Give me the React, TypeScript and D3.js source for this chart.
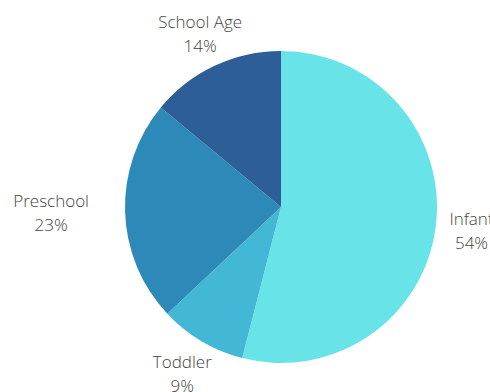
import React from "react";
import * as d3 from "d3";

const categories = ["Infant", "Toddler", "Preschool", "School Age"];
const values = [54, 9, 23, 14];
const colors = ["#68E4E8", "#42B8D6", "#2D8AB8", "#2D5E98"];

export default function App() {
  const W = 490, H = 392;
  const cx = 281, cy = 207, r = 156;
  const data = categories.map((c, i) => ({ c, v: values[i], col: colors[i] }));
  const pie = d3.pie<any>().value((d) => d.v).sort(null);
  const arcs = pie(data);
  const arc = d3.arc<any>().innerRadius(0).outerRadius(r);
  const extra: Record<string, [number, number]> = {
    Infant: [2, 0],
    Toddler: [-2, 3],
    Preschool: [-40, 0],
    "School Age": [0, -1],
  };
  return (
    <svg width={W} height={H} style={{ position: "absolute", left: 0, top: 0 }} fontFamily="'Open Sans', sans-serif">
      <g transform={`translate(${cx},${cy})`}>
        {arcs.map((a, i) => (
          <path key={i} d={arc(a) as string} fill={a.data.col} />
        ))}
        {arcs.map((a, i) => {
          const mid = (a.startAngle + a.endAngle) / 2;
          const lr = 190;
          const [ex, ey] = extra[a.data.c];
          const x = Math.sin(mid) * lr + ex;
          const y = -Math.cos(mid) * lr + ey;
          return (
            <text key={"t" + i} x={x} y={y} textAnchor="middle" fontSize={17} fontWeight={300} fill="#444">
              <tspan x={x} dy={-6}>{a.data.c}</tspan>
              <tspan x={x} dy={24}>{a.data.v}%</tspan>
            </text>
          );
        })}
      </g>
    </svg>
  );
}
